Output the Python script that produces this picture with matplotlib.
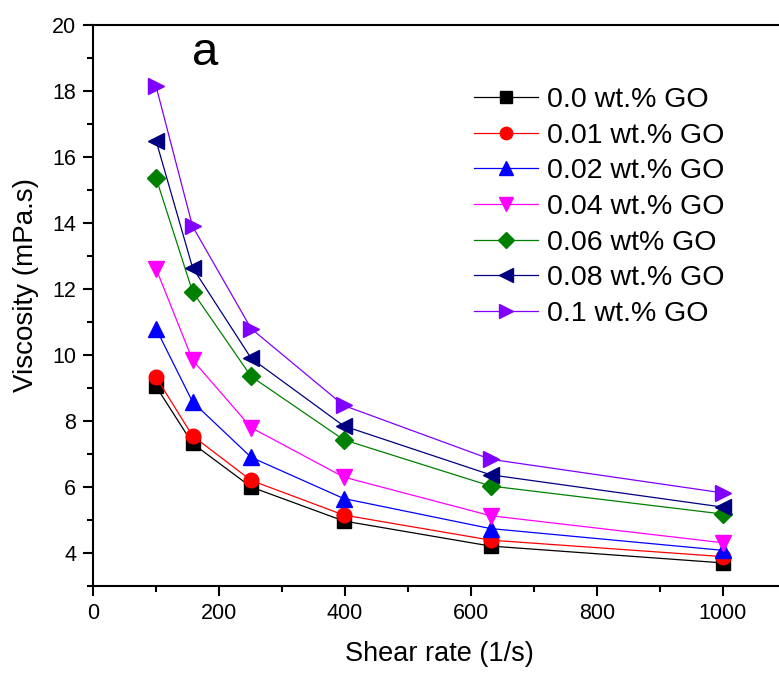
import numpy as np
import matplotlib
matplotlib.use("Agg")
import matplotlib.pyplot as plt
from matplotlib.ticker import MultipleLocator

plt.rcParams['font.family'] = ['Liberation Sans', 'DejaVu Sans']

shear = [100, 158, 251, 398, 631, 1000]
labels = ["0.0 wt.% GO", "0.01 wt.% GO", "0.02 wt.% GO", "0.04 wt.% GO",
          "0.06 wt% GO", "0.08 wt.% GO", "0.1 wt.% GO"]
visc_000 = [9.05, 7.32, 6.00, 4.97, 4.21, 3.70]
visc_001 = [9.33, 7.55, 6.20, 5.15, 4.39, 3.89]
visc_002 = [10.80, 8.58, 6.90, 5.65, 4.74, 4.08]
visc_004 = [12.62, 9.85, 7.80, 6.30, 5.13, 4.31]
visc_006 = [15.37, 11.92, 9.35, 7.43, 6.03, 5.18]
visc_008 = [16.50, 12.65, 9.90, 7.85, 6.37, 5.39]
visc_010 = [18.15, 13.90, 10.80, 8.47, 6.84, 5.82]

series = [visc_000, visc_001, visc_002, visc_004, visc_006, visc_008, visc_010]
colors = ["black", "red", "blue", "magenta", "green", "navy", "#8000ff"]
markers = ["s", "o", "^", "v", "D", "<", ">"]
sizes = [9.5, 10.5, 11.5, 11.5, 9.5, 11.5, 11.5]

fig = plt.figure(figsize=(7.79, 6.73), dpi=100)
ax = fig.add_axes([93/779, 87/673, 693/779, 561/673])

for y, c, m, s, lab in zip(series, colors, markers, sizes, labels):
    ax.plot(shear, y, color=c, marker=m, markersize=s, linewidth=0.9, label=lab)

ax.set_xlim(0, 1100)
ax.set_ylim(3, 20)
ax.xaxis.set_major_locator(MultipleLocator(200))
ax.xaxis.set_minor_locator(MultipleLocator(100))
ax.yaxis.set_major_locator(MultipleLocator(2))
ax.yaxis.set_minor_locator(MultipleLocator(1))
ax.tick_params(which='major', direction='out', length=7, width=1.5,
               labelsize=15.5, pad=5)
ax.tick_params(which='minor', direction='out', length=4, width=1.5)
for sp in ax.spines.values():
    sp.set_linewidth(1.5)

ax.set_xlabel("Shear rate (1/s)", fontsize=19.5)
ax.set_ylabel("Viscosity (mPa.s)", fontsize=20)
ax.xaxis.set_label_coords(0.5, -0.098)
ax.yaxis.set_label_coords(-0.078, 0.537)

fig.text(205/779, 1 - 65/673, "a", fontsize=34, ha='center', va='baseline')

ax.legend(loc='upper left', bbox_to_anchor=(474/779, 1 - 87/673),
          bbox_transform=fig.transFigure, frameon=False, fontsize=20.5,
          handlelength=2.25, handletextpad=0.3, labelspacing=0.34,
          borderpad=0, borderaxespad=0, numpoints=1, markerscale=0.85)

fig.savefig("out.png", dpi=100)
